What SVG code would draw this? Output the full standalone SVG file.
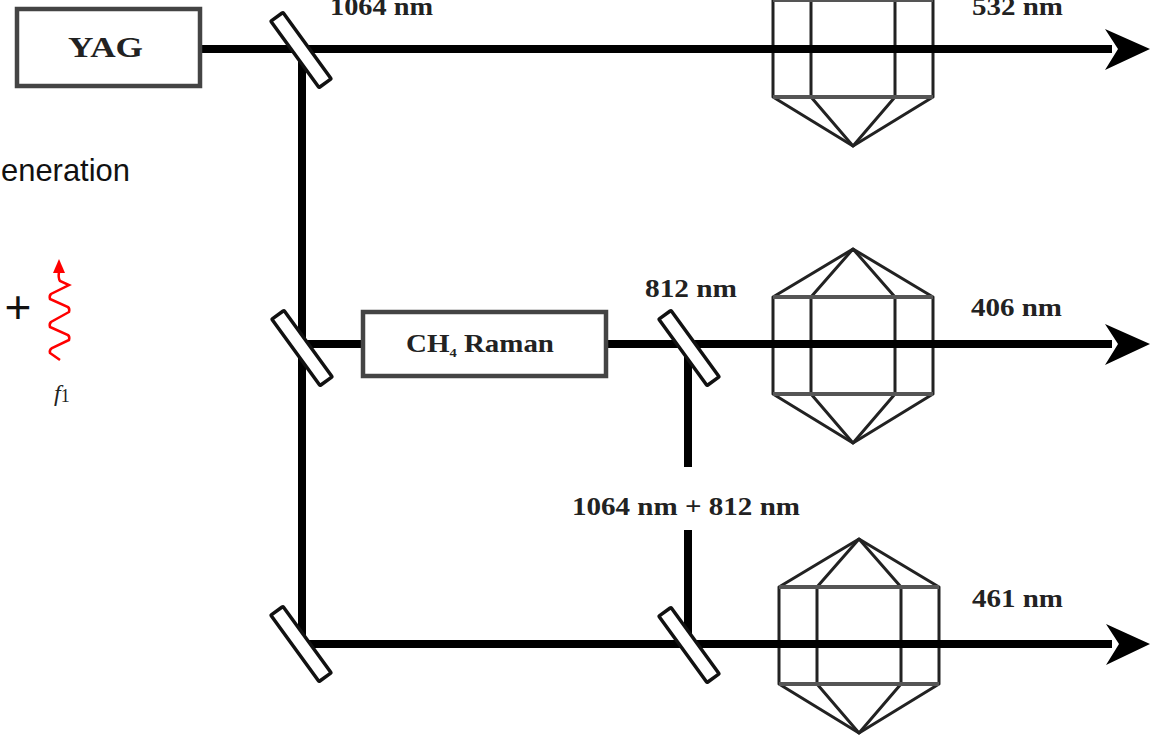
<svg xmlns="http://www.w3.org/2000/svg" width="1150" height="735" viewBox="0 0 1150 735">
<style>
.beam{fill:none;stroke:#000;stroke-width:8}
.box{fill:#fff;stroke:#444;stroke-width:4.5}
.mirror{fill:#fff;stroke:#111;stroke-width:3.5}
.xtal{fill:none;stroke:#222;stroke-width:3;stroke-linejoin:round}
.xh{fill:none;stroke:#555;stroke-width:4}
.head{fill:#000}
.lbl{font-family:"Liberation Serif",serif;font-weight:bold;font-size:26px;fill:#222}
.sans{font-family:"Liberation Sans",sans-serif;fill:#111}
</style>
<defs>
<g id="crystal">
<path class="xtal" d="M0 48 L80 0 L160 48 V145 L80 194 L0 145 Z"/>
<path class="xtal" d="M38 48 L80 0 L122 48 V145 L80 194 L38 145 Z"/>
<path class="xh" d="M0 48 H160 M0 145 H160"/>
</g>
<rect id="mirrorShape" class="mirror" x="-41" y="-7.5" width="82" height="15" rx="1"/>
</defs>
<g id="crystals">
<g id="crystal-532"><use href="#crystal" transform="translate(773,-48)"/></g>
<g id="crystal-406"><use href="#crystal" transform="translate(773,249)"/></g>
<g id="crystal-461"><use href="#crystal" transform="translate(779,539)"/></g>
</g>
<g id="connectors">
<path class="beam" d="M200 49 H1112"/>
<path class="beam" d="M302 49 V644"/>
<path class="beam" d="M302 344 H362"/>
<path class="beam" d="M607 344 H1112"/>
<path class="beam" d="M302 644 H1112"/>
<path class="beam" d="M688 344 V467"/>
<path class="beam" d="M688 530 V644"/>
<path class="head" d="M1150 49 L1105 29 L1118 49 L1105 70 Z"/>
<path class="head" d="M1150 344 L1105 324 L1118 344 L1105 365 Z"/>
<path class="head" d="M1150 644 L1106 624 L1119 644 L1106 665 Z"/>
</g>
<g id="yag"><rect class="box" x="17" y="9" width="183" height="77"/><text class="lbl" x="68" y="57" style="font-size:30px" textLength="75" lengthAdjust="spacingAndGlyphs">YAG</text></g>
<g id="raman"><rect class="box" x="363" y="312" width="243" height="64"/><text class="lbl" x="406" y="352" textLength="148" lengthAdjust="spacingAndGlyphs">CH<tspan font-size="13" dy="5">4</tspan><tspan dy="-5"> Raman</tspan></text></g>
<g id="mirror-1"><use href="#mirrorShape" transform="translate(301,50) rotate(54)"/></g>
<g id="mirror-2"><use href="#mirrorShape" transform="translate(302,348) rotate(54)"/></g>
<g id="mirror-3"><use href="#mirrorShape" transform="translate(301,644) rotate(54)"/></g>
<g id="mirror-4"><use href="#mirrorShape" transform="translate(689,348) rotate(54)"/></g>
<g id="mirror-5"><use href="#mirrorShape" transform="translate(689,645) rotate(54)"/></g>
<g id="labels">
<text class="lbl" x="330" y="15" textLength="103" lengthAdjust="spacingAndGlyphs">1064 nm</text>
<text class="lbl" x="972" y="15" textLength="91" lengthAdjust="spacingAndGlyphs">532 nm</text>
<text class="lbl" x="645" y="297" textLength="92" lengthAdjust="spacingAndGlyphs">812 nm</text>
<text class="lbl" x="971" y="316" textLength="91" lengthAdjust="spacingAndGlyphs">406 nm</text>
<text class="lbl" x="572" y="515" textLength="228" lengthAdjust="spacingAndGlyphs">1064 nm + 812 nm</text>
<text class="lbl" x="972" y="607" textLength="91" lengthAdjust="spacingAndGlyphs">461 nm</text>
<text class="sans" x="1" y="181" font-size="32" textLength="129" lengthAdjust="spacingAndGlyphs">eneration</text>
<text class="sans" x="18" y="323" font-size="46" text-anchor="middle">+</text>
</g>
<g id="photon">
<path d="M60 360 L50 353 Q49 350 52 348 L69 340 Q70 337 68 335 L50 327 Q49 324 51 322 L69 312 Q70 309 68 307 L50 299 Q49 296 51 294 L69 285 L60 281 Q58 278 59 272" fill="none" stroke="#f00" stroke-width="2.5"/>
<path d="M59 259 L53 273 L65 273 Z" fill="#f00"/>
<text x="54" y="401" font-family="Liberation Serif,serif" font-style="italic" font-size="24" fill="#222">f<tspan font-style="normal" font-size="18" dy="1">1</tspan></text>
</g>
</svg>
